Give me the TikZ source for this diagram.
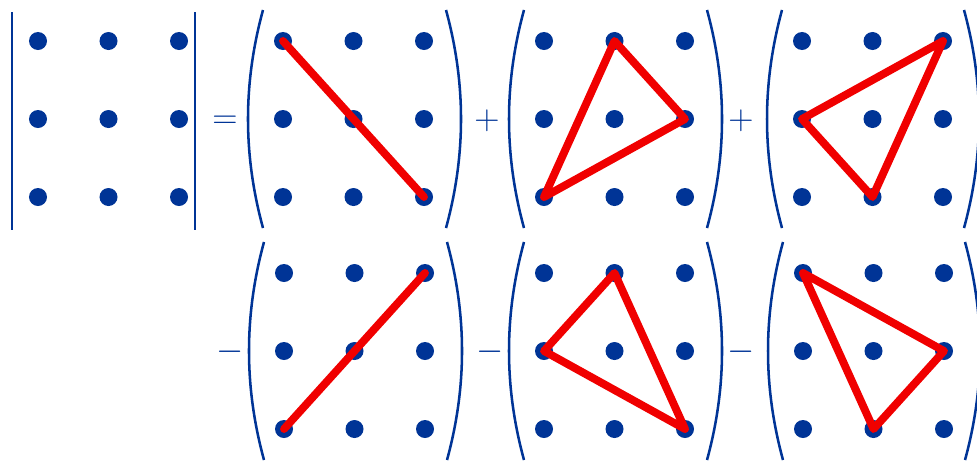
\documentclass[tikz,border=0pt]{standalone}
\usepackage{amsmath}
\usepackage{tikz}
\usetikzlibrary{positioning}
\usepackage{xcolor}
\definecolor{dotblue}{RGB}{0,52,150}
\definecolor{strokered}{RGB}{240,0,0}
\tikzset{
  dot/.style={circle, fill=dotblue, draw=none,
    minimum size=0.45cm, inner sep=0pt},
  paren/.style={draw=dotblue, line width=1.8pt},
  bar/.style={draw=dotblue, line width=1.7pt},
  sign/.style={text=dotblue, anchor=base, inner sep=0pt,
    font=\fontsize{26}{30}\selectfont},
  diag/.style={draw=strokered, line width=5.6pt,
    line join=round, line cap=round},
}
% 3x3 grid of dots, named #1-row-col
\newcommand{\dotgrid}[3]{%
  \foreach \r in {0,1,2}{
    \foreach \c in {0,1,2}{
      \node[dot] (#1-\r-\c) at ({#2+70.5*\c},{#3+78*\r}) {};
    }
  }%
}
% curved brackets round a grid: left top x, right top x, middle y
\newcommand{\bracepair}[3]{%
  \draw[paren] (#1,#3-109) .. controls (#1-20,#3-36) and (#1-20,#3+36) .. (#1,#3+109);
  \draw[paren] (#2,#3-109) .. controls (#2+20,#3-36) and (#2+20,#3+36) .. (#2,#3+109);
}

\begin{document}
\begin{tikzpicture}[x=0.025cm, y=-0.025cm]
  \useasboundingbox (0,0) rectangle (977,461);

  % Determinant on the left
  \dotgrid{D}{38}{41}
  \draw[bar] (12,12) -- (12,230);
  \draw[bar] (195,12) -- (195,230);
  \node[sign] (eq) at (225,128) {$=$};

  % Upper row: positive terms
  \dotgrid{A}{283}{41}
  \bracepair{263}{446}{119}
  \node[sign] (plusA) at (487,129) {$+$};

  \dotgrid{B}{544}{41}
  \bracepair{524}{707}{119}
  \node[sign] (plusB) at (741,129) {$+$};

  \dotgrid{C}{802}{41}
  \bracepair{782}{964}{119}

  % Lower row: negative terms
  \node[sign] (minA) at (230,360) {$-$};
  \dotgrid{E}{284}{273}
  \bracepair{264}{447}{351}
  \node[sign] (minB) at (490,360) {$-$};

  \dotgrid{F}{544}{273}
  \bracepair{524}{707}{351}
  \node[sign] (minC) at (741,360) {$-$};

  \dotgrid{G}{803}{273}
  \bracepair{783}{965}{351}

  % Red products
  \draw[diag] (A-0-0.center) -- (A-2-2.center);
  \draw[diag] (B-0-1.center) -- (B-1-2.center) -- (B-2-0.center) -- cycle;
  \draw[diag] (C-0-2.center) -- (C-1-0.center) -- (C-2-1.center) -- cycle;
  \draw[diag] (E-2-0.center) -- (E-0-2.center);
  \draw[diag] (F-0-1.center) -- (F-1-0.center) -- (F-2-2.center) -- cycle;
  \draw[diag] (G-0-0.center) -- (G-1-2.center) -- (G-2-1.center) -- cycle;
\end{tikzpicture}
\end{document}
